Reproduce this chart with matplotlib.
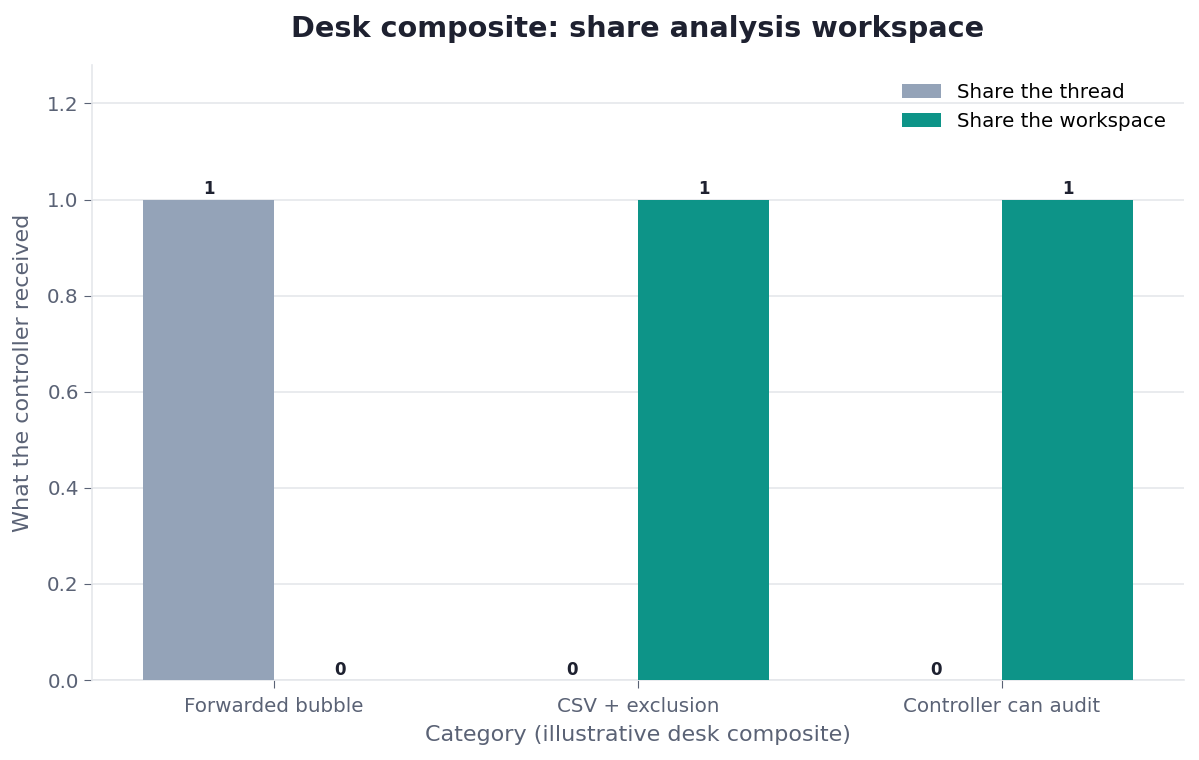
import matplotlib
matplotlib.use("Agg")
import matplotlib.pyplot as plt
import numpy as np

categories = ["Forwarded bubble", "CSV + exclusion", "Controller can audit"]
thread_vals = [1, 0, 0]
workspace_vals = [0, 1, 1]
series_names = ["Share the thread", "Share the workspace"]

fig = plt.figure(figsize=(11.99, 7.6), dpi=100)
ax = fig.add_axes([92/1199, 1 - 680/760, (1184-92)/1199, (680-65)/760])

x = np.arange(len(categories))
w = 0.36
b1 = ax.bar(x - w/2, thread_vals, w, color="#94a3b8", label=series_names[0], zorder=3)
b2 = ax.bar(x + w/2, workspace_vals, w, color="#0d9488", label=series_names[1], zorder=3)

for bars, vals in ((b1, thread_vals), (b2, workspace_vals)):
    for r, v in zip(bars, vals):
        ax.annotate(f"{v}", (r.get_x() + r.get_width()/2, v), xytext=(0, 1),
                    textcoords="offset points", ha="center", va="bottom",
                    fontsize=12, fontweight="bold", color="#1e2130", zorder=4)

ax.set_xlim(-0.5, 2.5)
ax.set_ylim(0, 1.28)
ax.set_xticks(x)
ax.set_xticklabels(categories)
ax.set_yticks(np.arange(0, 1.21, 0.2))
ax.set_yticklabels([f"{t:.1f}" for t in np.arange(0, 1.21, 0.2)])
ax.tick_params(axis="both", labelsize=14.3, colors="#5a6275", length=6)
ax.tick_params(axis="x", pad=6)
ax.grid(axis="y", color="#e5e7eb", linewidth=1.2, zorder=0)
for s in ("top", "right"):
    ax.spines[s].set_visible(False)
for s in ("left", "bottom"):
    ax.spines[s].set_color("#e5e7eb")
    ax.spines[s].set_linewidth(1.2)

ax.set_xlabel("Category (illustrative desk composite)", fontsize=16, color="#5a6275", labelpad=7)
ax.set_ylabel("What the controller received", fontsize=16, color="#5a6275", labelpad=10)
ax.set_title("Desk composite: share analysis workspace", fontsize=20.7, fontweight="bold",
             color="#1e2130", pad=20)
leg = ax.legend(loc="upper right", frameon=False, fontsize=14.3, handlelength=2.0,
                labelspacing=0.5)

fig.savefig("out.png", dpi=100)
